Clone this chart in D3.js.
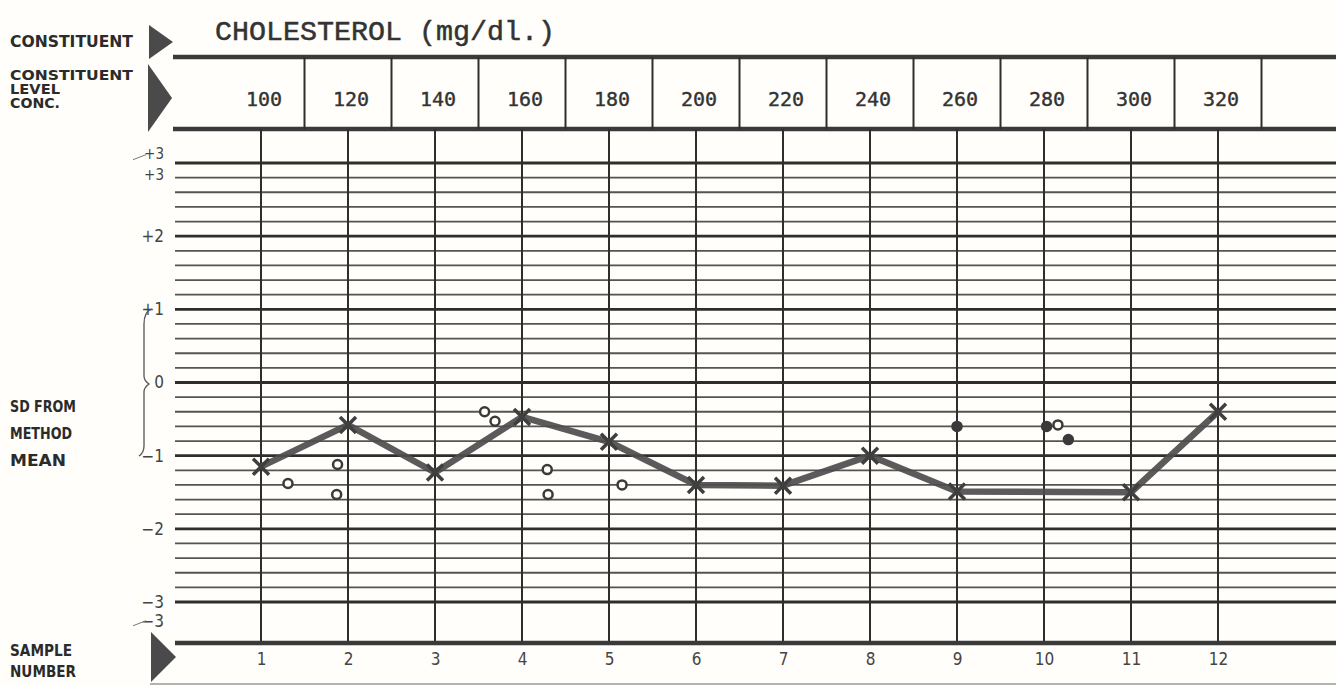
<!DOCTYPE html>
<html>
<head>
<meta charset="utf-8">
<script src="https://cdn.jsdelivr.net/npm/d3@7"></script>
<style>
body { margin: 0; background: #fffefa; }
svg { display: block; }
.lbl { font-family: "DejaVu Sans Condensed", "DejaVu Sans", sans-serif; font-weight: bold; fill: #2b2b2b; }
.tick text { font-family: "DejaVu Sans Condensed", "DejaVu Sans", sans-serif; fill: #444; }
</style>
</head>
<body>
<svg id="chart" width="1336" height="685"></svg>
<script>
const samples = [1, 2, 3, 4, 5, 6, 7, 8, 9, 10, 11, 12];
const levels = [100, 120, 140, 160, 180, 200, 220, 240, 260, 280, 300, 320];
const sdTicks = [3, 2, 1, 0, -1, -2, -3];
const sdTickLabels = ["+3", "+2", "+1", "0", "\u22121", "\u22122", "\u22123"];
// method mean line, sample 10 has no mark
const meanSD = [-1.15, -0.58, -1.23, -0.47, -0.81, -1.40, -1.41, -1.00, -1.49, null, -1.50, -0.40];
// single lab results scattered around the line
const otherSample = [1.31, 1.88, 1.87, 3.57, 3.69, 4.29, 4.30, 5.15, 9.0, 10.03, 10.16, 10.28];
const otherSD = [-1.38, -1.12, -1.53, -0.40, -0.53, -1.19, -1.53, -1.40, -0.60, -0.60, -0.58, -0.78];
const otherFilled = [false, false, false, false, false, false, false, false, true, true, false, true];

const svg = d3.select("#chart");
const ink = "#2e2e2e";

const x = d3.scaleLinear().domain([1, 12]).range([261, 1218]);
const y = d3.scaleLinear().domain([3, -3]).range([163, 602]);

const gridLeft = 175, gridRight = 1336;
const rowTop = 57, rowBottom = 129, baseY = 643;

// header
svg.append("text").attr("class", "lbl")
	.attr("x", 10).attr("y", 47).attr("font-size", 16.5)
	.attr("textLength", 123).attr("lengthAdjust", "spacingAndGlyphs")
	.text("CONSTITUENT");

svg.append("text")
	.attr("x", 215).attr("y", 40)
	.attr("font-family", "'Liberation Mono', 'DejaVu Sans Mono', monospace")
	.attr("font-size", 27)
	.attr("fill", "#333").attr("stroke", "#333").attr("stroke-width", 0.5)
	.attr("textLength", 340).attr("lengthAdjust", "spacingAndGlyphs")
	.text("CHOLESTEROL (mg/dl.)");

const tri = (bx, top, bottom, apex) => `M${bx},${top}L${apex},${(top + bottom) / 2}L${bx},${bottom}Z`;
svg.append("path").attr("d", tri(149, 25, 59, 173)).attr("fill", "#4a4a4a");
svg.append("path").attr("d", tri(148, 64, 132, 172)).attr("fill", "#4a4a4a");
svg.append("path").attr("d", tri(151, 632, 682, 176)).attr("fill", "#4a4a4a");

// level row
const levelLbl = svg.append("g").attr("class", "lbl").attr("font-size", 13.5);
[["CONSTITUENT", 80, 123], ["LEVEL", 94, 50], ["CONC.", 108, 50]].forEach(d => {
	levelLbl.append("text").attr("x", 10).attr("y", d[1])
		.attr("textLength", d[2]).attr("lengthAdjust", "spacingAndGlyphs").text(d[0]);
});

svg.append("g").selectAll("line")
	.data([rowTop, rowBottom])
	.enter().append("line")
	.attr("x1", 173).attr("x2", gridRight)
	.attr("y1", d => d).attr("y2", d => d)
	.attr("stroke", "#3a3a3a").attr("stroke-width", 4.5);

svg.append("g").selectAll("line")
	.data(samples)
	.enter().append("line")
	.attr("x1", d => x(d + 0.5)).attr("x2", d => x(d + 0.5))
	.attr("y1", rowTop).attr("y2", rowBottom)
	.attr("stroke", ink).attr("stroke-width", 2);

svg.append("g").selectAll("text")
	.data(levels)
	.enter().append("text")
	.attr("x", (d, i) => x(samples[i]) + 3)
	.attr("y", 106)
	.attr("text-anchor", "middle")
	.attr("font-family", "'DejaVu Sans Mono', monospace")
	.attr("font-size", 20)
	.attr("fill", "#333").attr("stroke", "#333").attr("stroke-width", 0.4)
	.text(d => d);

// SD grid
const gridLines = d3.range(-15, 16).map(k => k / 5);
const isMajor = d => Number.isInteger(Math.round(d * 1000) / 1000);
svg.append("g").selectAll("line")
	.data(gridLines)
	.enter().append("line")
	.attr("x1", gridLeft).attr("x2", gridRight)
	.attr("y1", d => y(d)).attr("y2", d => y(d))
	.attr("stroke", ink)
	.attr("stroke-width", d => isMajor(d) ? 2.8 : 1.8)
	.attr("stroke-opacity", d => isMajor(d) ? 1 : 0.82);

svg.append("g").selectAll("line")
	.data(samples)
	.enter().append("line")
	.attr("x1", d => x(d)).attr("x2", d => x(d))
	.attr("y1", rowBottom).attr("y2", baseY)
	.attr("stroke", ink).attr("stroke-width", 2);

svg.append("line")
	.attr("x1", gridLeft).attr("x2", gridRight)
	.attr("y1", baseY).attr("y2", baseY)
	.attr("stroke", "#3a3a3a").attr("stroke-width", 4.5);

// axes
const yAxis = d3.axisLeft(y)
	.tickValues(sdTicks)
	.tickSize(0).tickPadding(0)
	.tickFormat((d, i) => sdTickLabels[i]);

svg.append("g")
	.attr("transform", "translate(164,0)")
	.call(yAxis)
	.call(g => g.select(".domain").remove())
	.call(g => g.selectAll("text").attr("font-size", 17))
	.call(g => g.selectAll(".tick").filter(d => d === 3).select("text")
		.attr("font-size", 15).attr("dy", "-0.3em"));

svg.append("g")
	.attr("class", "tick")
	.selectAll("text")
	.data([["+3", 2.84, 15], ["\u22123", -3.27, 17]])
	.enter().append("text")
	.attr("x", 164).attr("y", d => y(d[1]))
	.attr("dy", "0.32em")
	.attr("text-anchor", "end")
	.attr("font-size", d => d[2])
	.text(d => d[0]);

svg.append("g").selectAll("path")
	.data([3.1, -3.27])
	.enter().append("path")
	.attr("d", d => `M133,${y(d) + 4}L146,${y(d) - 1}`)
	.attr("stroke", "#777").attr("stroke-width", 1);

const xAxis = d3.axisBottom(x)
	.tickValues(samples)
	.tickSize(0).tickPadding(10)
	.tickFormat(d3.format("d"));

svg.append("g")
	.attr("transform", `translate(0,${baseY})`)
	.call(xAxis)
	.call(g => g.select(".domain").remove())
	.call(g => g.selectAll("text").attr("font-size", 17).attr("fill", "#555"));

// SD from method mean
const sdLbl = svg.append("g").attr("class", "lbl").attr("font-size", 16.5);
[["SD FROM", 412, 66], ["METHOD", 439, 62], ["MEAN", 466, 56]].forEach(d => {
	sdLbl.append("text").attr("x", 10).attr("y", d[1])
		.attr("textLength", d[2]).attr("lengthAdjust", "spacingAndGlyphs").text(d[0]);
});

svg.append("path")
	.attr("d", "M152,309C146,311 144,316 144,324L144,376C144,380 146,382 149,384C146,386 144,388 144,392L144,446C144,451 142,454 139,456")
	.attr("fill", "none").attr("stroke", "#555").attr("stroke-width", 1.3);

const bottomLbl = svg.append("g").attr("class", "lbl").attr("font-size", 15.5);
[["SAMPLE", 656, 62], ["NUMBER", 677, 66]].forEach(d => {
	bottomLbl.append("text").attr("x", 10).attr("y", d[1])
		.attr("textLength", d[2]).attr("lengthAdjust", "spacingAndGlyphs").text(d[0]);
});

// data
const meanPts = samples.map((s, i) => ({s: s, v: meanSD[i]})).filter(d => d.v !== null);

svg.append("path")
	.datum(meanPts)
	.attr("d", d3.line().x(d => x(d.s)).y(d => y(d.v)))
	.attr("fill", "none")
	.attr("stroke", "#4d4d4d")
	.attr("stroke-width", 6.5)
	.attr("stroke-linejoin", "round")
	.attr("stroke-opacity", 0.92);

svg.append("g").selectAll("path")
	.data(meanPts)
	.enter().append("path")
	.attr("transform", d => `translate(${x(d.s)},${y(d.v)})`)
	.attr("d", "M-8,-8L8,8M-8,8L8,-8")
	.attr("stroke", "#3f3f3f")
	.attr("stroke-width", 3.5);

svg.append("g").selectAll("circle")
	.data(otherSample.map((s, i) => ({s: s, v: otherSD[i], f: otherFilled[i]})))
	.enter().append("circle")
	.attr("cx", d => x(d.s))
	.attr("cy", d => y(d.v))
	.attr("r", 4.5)
	.attr("fill", d => d.f ? "#3a3a3a" : "#fffefa")
	.attr("stroke", "#3a3a3a")
	.attr("stroke-width", 2.5);

svg.append("line")
	.attr("x1", 150).attr("x2", gridRight)
	.attr("y1", 684).attr("y2", 684)
	.attr("stroke", "#999").attr("stroke-width", 1.5);
</script>
</body>
</html>
